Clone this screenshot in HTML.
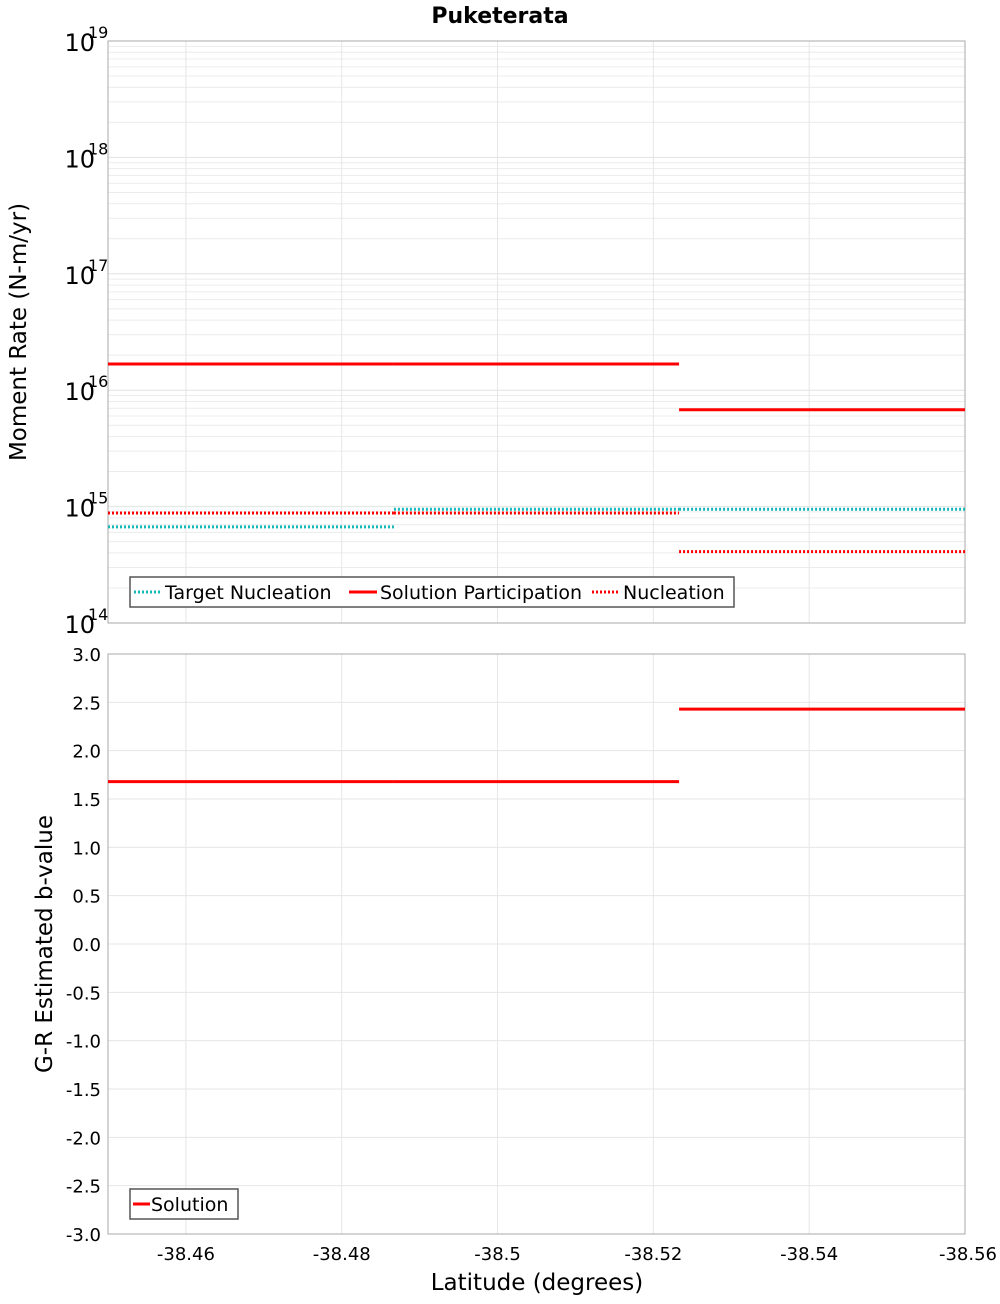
<!DOCTYPE html>
<html><head><meta charset="utf-8"><style>
body{margin:0;background:#fff;font-family:"DejaVu Sans","Liberation Sans",sans-serif;}
svg text{font-family:"DejaVu Sans","Liberation Sans",sans-serif;}
</style></head><body>
<svg id="c" width="1000" height="1300" xmlns="http://www.w3.org/2000/svg">
<rect width="1000" height="1300" fill="#fff"/>
<text x="500" y="23" text-anchor="middle" font-size="22" font-weight="bold">Puketerata</text>
<g id="topPlot"></g><g id="botPlot"></g>
</svg>
<script>
const segStarts=[-38.45,-38.4867,-38.5233];
const segEnds=[-38.4867,-38.5233,-38.56];
const targetNucleation=[6.7e14,9.5e14,9.5e14];
const solutionParticipation=[1.68e16,1.68e16,6.8e15];
const nucleation=[8.8e14,8.8e14,4.1e14];
const bValues=[1.68,1.68,2.43];
const xTicks=[-38.46,-38.48,-38.5,-38.52,-38.54,-38.56];
const xTickLabels=["-38.46","-38.48","-38.5","-38.52","-38.54","-38.56"];
const yExps=[14,15,16,17,18,19];
const bTicks=[-3,-2.5,-2,-1.5,-1,-0.5,0,0.5,1,1.5,2,2.5,3];

const NS="http://www.w3.org/2000/svg";
const L=108,R=965;
const X=v=>L+(v-(-38.45))/(-38.56-(-38.45))*(R-L);
const T0=41,T1=623;
const YL=v=>T1-(Math.log10(v)-14)/5*(T1-T0);
const B0=654,B1=1234;
const YB=v=>B1-(v+3)/6*(B1-B0);
function el(p,t,a){const e=document.createElementNS(NS,t);for(const k in a)e.setAttribute(k,a[k]);p.appendChild(e);return e;}
const topG=document.getElementById('topPlot'),botG=document.getElementById('botPlot');

for(let d=14;d<19;d++)for(let m=1;m<10;m++){const y=YL(m*Math.pow(10,d));
 const g=el(topG,'line',{x1:L,x2:R,y1:y,y2:y,stroke:m==1?'#e2e2e2':'#ececec','stroke-width':1});
 
 }
xTicks.forEach(t=>{[topG,botG].forEach((p,i)=>{const g=el(p,'line',{x1:X(t),x2:X(t),y1:i?B0:T0,y2:i?B1:T1,stroke:'#e6e6e6'});
 
 });});
yExps.forEach(e=>{const y=YL(Math.pow(10,e));
 const t=el(topG,'text',{x:95,y:y+10,'text-anchor':'end','font-size':24});t.textContent='10';
 
 
 const s=el(topG,'text',{x:88,y:y-3,'font-size':16});s.textContent=e;
 
 });
const fr=el(topG,'rect',{x:L,y:T0,width:R-L,height:T1-T0,fill:'none',stroke:'#aaa'});


const yt=el(topG,'text',{transform:'translate(26,332) rotate(-90)','text-anchor':'middle','font-size':23});yt.textContent='Moment Rate (N-m/yr)';



function seg(p,arr,Y,color,dash,name){arr.forEach((v,i)=>{const a={x1:X(segStarts[i]),x2:X(segEnds[i]),y1:Y(v),y2:Y(v),stroke:color,'stroke-width':3};if(dash)a['stroke-dasharray']='2,2';
 const l=el(p,'line',a);
 
 });}
seg(topG,targetNucleation,YL,'#14b8b8',true,'target-nucleation');
seg(topG,solutionParticipation,YL,'#ff0000',false,'solution-participation');
seg(topG,nucleation,YL,'#ff0000',true,'nucleation');

const lg=el(topG,'g',{});
el(lg,'rect',{x:130,y:577,width:604,height:30,fill:'#fff',stroke:'#555','stroke-width':1.5});
[[134,'#14b8b8',true,'Target Nucleation'],[349,'#ff0000',false,'Solution Participation'],[592,'#ff0000',true,'Nucleation']].forEach(([x,c,d,t])=>{
 const a={x1:x,x2:x+28,y1:592,y2:592,stroke:c,'stroke-width':3};if(d)a['stroke-dasharray']='2,2';
 const l=el(lg,'line',a);
 const tx=el(lg,'text',{x:x+31,y:599,'font-size':19});tx.textContent=t;
 
 });

bTicks.forEach(v=>{const y=YB(v);
 const g=el(botG,'line',{x1:L,x2:R,y1:y,y2:y,stroke:'#e6e6e6'});
 const t=el(botG,'text',{x:101,y:y+7,'text-anchor':'end','font-size':18});t.textContent=v.toFixed(1);
 
 });
const fb=el(botG,'rect',{x:L,y:B0,width:R-L,height:B1-B0,fill:'none',stroke:'#aaa'});


xTicks.forEach((t,i)=>{const tx=el(botG,'text',{x:X(t),y:1260,'text-anchor':i==xTicks.length-1?'end':'middle','font-size':18});tx.textContent=xTickLabels[i];
 if(i==xTicks.length-1)tx.setAttribute('x',R+32);
 
 });
const by=el(botG,'text',{transform:'translate(52,944) rotate(-90)','text-anchor':'middle','font-size':23});by.textContent='G-R Estimated b-value';


const xa=el(botG,'text',{x:537,y:1290,'text-anchor':'middle','font-size':23});xa.textContent='Latitude (degrees)';


seg(botG,bValues,YB,'#ff0000',false,'b-value-solution');
const lb=el(botG,'g',{});
el(lb,'rect',{x:130,y:1189,width:108,height:30,fill:'#fff',stroke:'#555','stroke-width':1.5});
const ll=el(lb,'line',{x1:133,x2:150,y1:1204,y2:1204,stroke:'#ff0000','stroke-width':3});


const lt=el(lb,'text',{x:151,y:1211,'font-size':19});lt.textContent='Solution';


</script>
</body></html>
